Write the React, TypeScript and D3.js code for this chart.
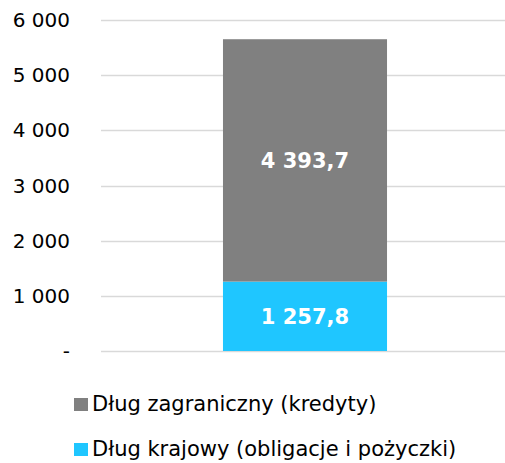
import React, { useEffect, useRef } from "react";
import * as d3 from "d3";

// data
const seriesNames = ["Dług krajowy (obligacje i pożyczki)", "Dług zagraniczny (kredyty)"];
const seriesValues = [1257.8, 4393.7];
const seriesColors = ["#1FC6FF", "#808080"];
const yTicks = [0, 1000, 2000, 3000, 4000, 5000, 6000];

const App = () => {
  const ref = useRef<SVGSVGElement>(null);

  useEffect(() => {
    document.body.style.margin = "0";
    const width = 505;
    const height = 463;
    const font = "DejaVu Sans, Verdana, sans-serif";

    const pl = d3.formatLocale({
      decimal: ",",
      thousands: "\u00a0",
      grouping: [3],
      currency: ["", ""],
    });
    const tickFmt = (v: number) => (v === 0 ? "-" : pl.format(",.0f")(v));
    const valFmt = pl.format(",.1f");

    const svg = d3.select(ref.current!);
    svg.selectAll("*").remove();
    svg.attr("width", width).attr("height", height).style("display", "block");

    const y = d3.scaleLinear().domain([0, 6000]).range([351, 20]);
    // single category, bar about 164px wide centred in plot area
    const x = d3.scaleBand().domain(["all"]).range([106, 504]).paddingInner(0).paddingOuter(0.713);

    // gridlines
    svg
      .append("g")
      .selectAll("line")
      .data(yTicks)
      .enter()
      .append("line")
      .attr("x1", 101)
      .attr("x2", 505)
      .attr("y1", (d) => Math.round(y(d)) + 0.5)
      .attr("y2", (d) => Math.round(y(d)) + 0.5)
      .attr("stroke", "#d9d9d9")
      .attr("stroke-width", 1.5);

    // y labels
    svg
      .append("g")
      .selectAll("text")
      .data(yTicks)
      .enter()
      .append("text")
      .attr("x", 70)
      .attr("y", (d) => y(d) + 7)
      .attr("text-anchor", "end")
      .attr("font-family", font)
      .attr("font-size", 20)
      .attr("fill", "#000")
      .text((d) => tickFmt(d));

    // stacked bar
    const stackData = [{ key: "all", a: seriesValues[0], b: seriesValues[1] }];
    const stack = d3.stack<any>().keys(["a", "b"])(stackData);

    const layers = svg
      .append("g")
      .selectAll("g")
      .data(stack)
      .enter()
      .append("g");

    layers
      .selectAll("rect")
      .data((d) => d)
      .enter()
      .append("rect")
      .attr("x", (d: any) => x(d.data.key)!)
      .attr("width", x.bandwidth())
      .attr("y", (d) => y(d[1]))
      .attr("height", (d) => y(d[0]) - y(d[1]))
      .attr("fill", function () {
        const i = stack.indexOf(d3.select(this.parentNode as any).datum() as any);
        return seriesColors[i];
      });

    layers
      .selectAll("text")
      .data((d) => d)
      .enter()
      .append("text")
      .attr("x", (d: any) => x(d.data.key)! + x.bandwidth() / 2)
      .attr("y", (d) => (y(d[0]) + y(d[1])) / 2 + 8)
      .attr("text-anchor", "middle")
      .attr("font-family", font)
      .attr("font-size", 21)
      .attr("font-weight", "bold")
      .attr("fill", "#fff")
      .text((d) => valFmt(d[1] - d[0]));

    // legend (top series first)
    const legendOrder = [1, 0];
    const lg = svg
      .append("g")
      .selectAll("g")
      .data(legendOrder)
      .enter()
      .append("g")
      .attr("transform", (d, i) => `translate(74, ${398 + i * 45})`);
    lg.append("rect")
      .attr("width", 14)
      .attr("height", 13)
      .attr("fill", (d) => seriesColors[d]);
    lg.append("text")
      .attr("x", 18)
      .attr("y", 13)
      .attr("font-family", font)
      .attr("font-size", 21)
      .attr("fill", "#000")
      .text((d) => seriesNames[d]);
  }, []);

  return <svg ref={ref} />;
};

export default App;
